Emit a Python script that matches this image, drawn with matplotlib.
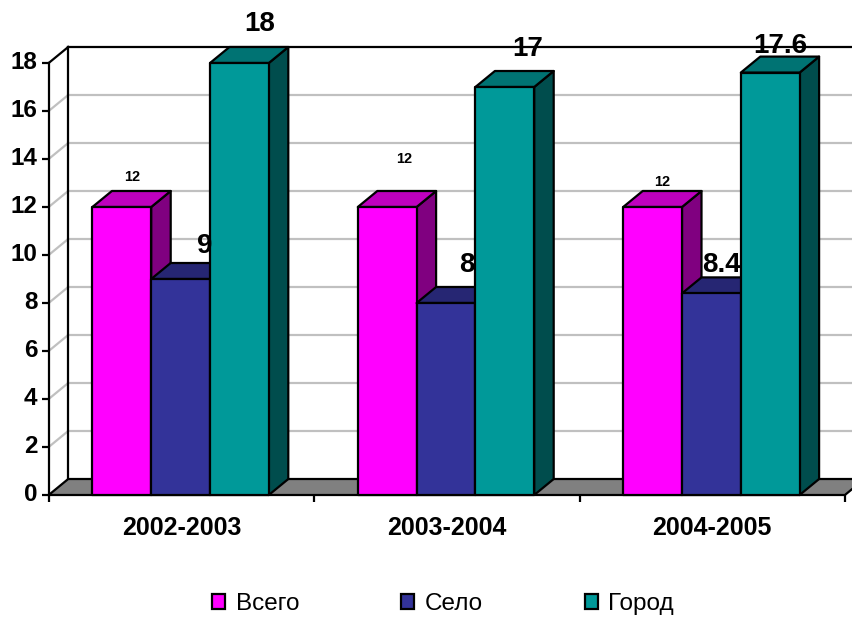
# Pacotes
import matplotlib
matplotlib.use('Agg')
import matplotlib.pyplot as plt
from matplotlib.patches import Polygon, Patch
from matplotlib.transforms import ScaledTranslation

plt.rcParams['font.family'] = ['Liberation Sans', 'DejaVu Sans']

# Dados
anos = ['2002-2003', '2003-2004', '2004-2005']
vsego = [12, 12, 12]
selo = [9, 8, 8.4]
gorod = [18, 17, 17.6]
series_nomes = ['Всего', 'Село', 'Город']
y_ticks = [0, 2, 4, 6, 8, 10, 12, 14, 16, 18]

# Estilo
W, H = 852, 618
cores = [('#FF00FF', '#BF00BF', '#800080'),
         ('#333399', '#262673', '#1A1A4D'),
         ('#009999', '#007373', '#004D4D')]
lw = 1.6
cat_px = 265.4    # largura de uma categoria em pixels
un_px = 24.0      # pixels por unidade de y
dx = 19.5 / cat_px
dy = 16 / un_px
larg = 58.8 / cat_px
inicio = 43.7 / cat_px

# deslocamento dos rotulos em pixels, relativo ao topo da barra
rot_offset = [[(10, 30), (17, 48), (10, 25)],
              [(24, 33), (21, 38), (10, 28)],
              [(20, 39), (23, 38), (10, 27)]]
rot_tam = [10.5, 20, 20]

fig = plt.figure(figsize=(W / 100, H / 100), dpi=100)
esq = 48.7
base = 495
ax = fig.add_axes([esq / W, (H - base) / H, (W - esq) / W, 18 * un_px / H])
xmax = (W - esq) / cat_px
ax.set_xlim(0, xmax)
ax.set_ylim(0, 18)
ax.patch.set_alpha(0)
for s in ['top', 'right', 'bottom']:
    ax.spines[s].set_visible(False)
ax.spines['left'].set_linewidth(lw)

# Eixos
ax.set_yticks(y_ticks)
ax.set_yticklabels([str(v) for v in y_ticks], fontsize=17.5, fontweight='bold')
ax.tick_params(axis='y', length=5, width=lw, pad=3)
sobe = ScaledTranslation(0, 2.5 / 72, fig.dpi_scale_trans)
for t in ax.get_yticklabels():
    t.set_transform(t.get_transform() + sobe)
ax.set_xticks(range(len(anos) + 1))
ax.set_xticklabels([])
ax.tick_params(axis='x', length=5, width=lw)
ax.set_xticks([i + 0.5 for i in range(len(anos))], minor=True)
ax.set_xticklabels(anos, minor=True, fontsize=18, fontweight='bold')
ax.tick_params(axis='x', which='minor', length=0, pad=15)

# Parede do fundo e grade
for v in y_ticks[1:-1]:
    ax.plot([dx, xmax], [v + dy, v + dy], color='#C0C0C0', lw=lw, clip_on=False, zorder=1)
    ax.plot([0, dx], [v, v + dy], color='#C0C0C0', lw=lw, clip_on=False, zorder=1)
ax.plot([dx, dx], [dy, 18 + dy], color='k', lw=lw, clip_on=False, zorder=2)
ax.plot([dx, xmax], [18 + dy, 18 + dy], color='k', lw=lw, clip_on=False, zorder=2)
ax.plot([0, dx], [18, 18 + dy], color='k', lw=lw, clip_on=False, zorder=2)

# Chao
n = len(anos)
ax.add_patch(Polygon([(0, 0), (n, 0), (n + dx, dy), (dx, dy)], facecolor='#808080',
                     edgecolor='k', lw=lw, clip_on=False, zorder=2))

# Barras 3D
z = 3
series = [vsego, selo, gorod]
for i in range(n):
    for j, valores in enumerate(series):
        v = valores[i]
        x0 = i + inicio + j * larg
        x1 = x0 + larg
        frente, topo, lado = cores[j]
        ax.add_patch(Polygon([(x1, 0), (x1 + dx, dy), (x1 + dx, v + dy), (x1, v)],
                             facecolor=lado, edgecolor='k', lw=lw, joinstyle='round', clip_on=False, zorder=z))
        ax.add_patch(Polygon([(x0, v), (x1, v), (x1 + dx, v + dy), (x0 + dx, v + dy)],
                             facecolor=topo, edgecolor='k', lw=lw, joinstyle='round', clip_on=False, zorder=z))
        ax.add_patch(Polygon([(x0, 0), (x1, 0), (x1, v), (x0, v)],
                             facecolor=frente, edgecolor='k', lw=lw, joinstyle='round', clip_on=False, zorder=z))
        z += 1

# Rotulos
for j, valores in enumerate(series):
    for i, v in enumerate(valores):
        xc = i + inicio + (j + 0.5) * larg
        ax.annotate('%g' % v, xy=(xc, v), xytext=rot_offset[j][i], textcoords='offset pixels',
                    ha='center', va='center', fontsize=rot_tam[j], fontweight='bold',
                    annotation_clip=False, zorder=50)

# Legenda
handles = [Patch(facecolor=cores[k][0], edgecolor='k', lw=lw) for k in range(3)]
fig.legend(handles, series_nomes, loc='center', bbox_to_anchor=(443 / W, (H - 604) / H),
           ncol=3, frameon=False, fontsize=17.5, handlelength=0.55, handleheight=0.55,
           handletextpad=0.42, columnspacing=4.2, borderpad=0)

fig.savefig('out.png', dpi=100)
